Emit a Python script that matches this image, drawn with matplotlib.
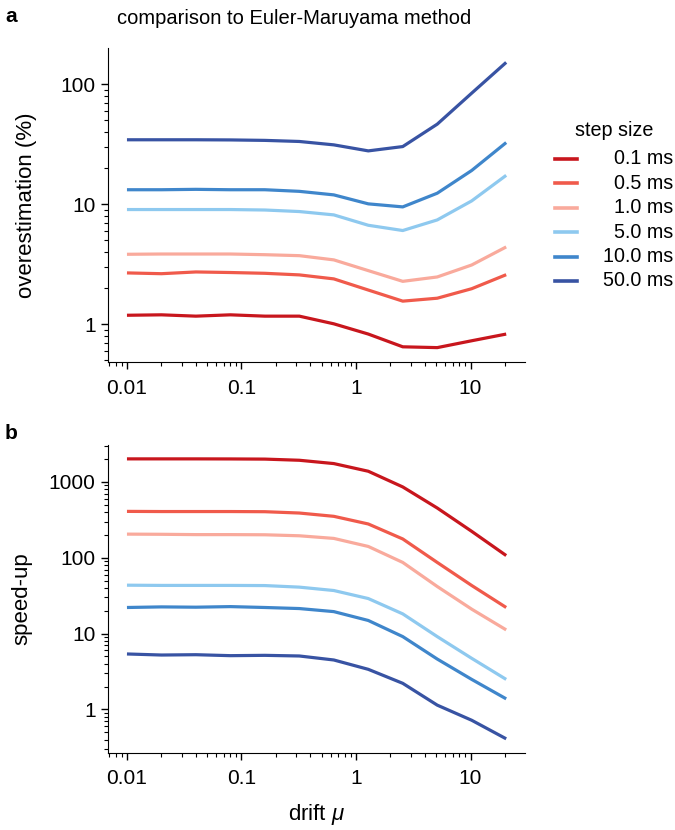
import matplotlib
matplotlib.use('Agg')
import matplotlib.pyplot as plt
from matplotlib.lines import Line2D
import numpy as np

plt.rcParams['font.family'] = ['Liberation Sans', 'DejaVu Sans']
plt.rcParams['mathtext.fontset'] = 'custom'
plt.rcParams['mathtext.it'] = 'Liberation Sans:italic'

# drift values
drift = [0.01, 0.02, 0.04, 0.08, 0.16, 0.32, 0.64, 1.28, 2.56, 5.12, 10.24, 20.48]

steps = ['0.1 ms', '0.5 ms', '1.0 ms', '5.0 ms', '10.0 ms', '50.0 ms']
colors = ['#c8161d', '#f05a4b', '#f9aa9c', '#8ec9ef', '#3f86cb', '#3853a3']

# overestimation (%)
over_01 = [1.19, 1.20, 1.17, 1.20, 1.17, 1.17, 1.01, 0.83, 0.65, 0.64, 0.73, 0.83]
over_05 = [2.68, 2.64, 2.73, 2.70, 2.66, 2.58, 2.39, 1.93, 1.56, 1.65, 1.98, 2.59]
over_1 = [3.83, 3.85, 3.85, 3.85, 3.80, 3.73, 3.44, 2.80, 2.28, 2.48, 3.12, 4.41]
over_5 = [9.03, 9.03, 9.03, 9.03, 8.95, 8.69, 8.15, 6.68, 6.04, 7.40, 10.66, 17.4]
over_10 = [13.2, 13.2, 13.3, 13.2, 13.2, 12.8, 11.96, 10.07, 9.5, 12.35, 19.1, 32.6]
over_50 = [34.4, 34.4, 34.4, 34.3, 34.0, 33.3, 31.2, 27.8, 30.2, 46.4, 84.1, 151.6]
over = [over_01, over_05, over_1, over_5, over_10, over_50]

# speed-up
speed_01 = [2014, 2014, 2014, 2010, 2000, 1931, 1746, 1383, 859, 453, 223, 107]
speed_05 = [409, 407, 407, 407, 405, 389, 352, 279, 177, 86.8, 43.1, 22.1]
speed_1 = [205, 204, 202, 202, 201, 195, 180, 141, 86.8, 41.8, 21.0, 11.2]
speed_5 = [43.5, 43.2, 43.2, 43.2, 43.0, 41.0, 37.0, 29.0, 18.2, 9.13, 4.72, 2.49]
speed_10 = [22.1, 22.5, 22.3, 22.7, 22.1, 21.4, 19.5, 14.9, 9.13, 4.62, 2.49, 1.38]
speed_50 = [5.39, 5.22, 5.27, 5.12, 5.17, 5.07, 4.49, 3.38, 2.21, 1.14, 0.72, 0.41]
speed = [speed_01, speed_05, speed_1, speed_5, speed_10, speed_50]

fig = plt.figure(figsize=[6.75, 8.3], dpi=100)
ax1 = fig.add_axes([0.16, 0.564, 0.618, 0.378])
ax2 = fig.add_axes([0.16, 0.093, 0.618, 0.371])

for ax, data in [(ax1, over), (ax2, speed)]:
    for i in range(len(steps)):
        ax.plot(drift, data[i], c=colors[i], lw=2.3, solid_capstyle='butt')
    ax.set_xscale('log')
    ax.set_yscale('log')
    ax.spines['top'].set_visible(False)
    ax.spines['right'].set_visible(False)
    ax.tick_params(which='major', length=5, width=1, labelsize=15, pad=4)
    ax.tick_params(axis='x', which='major', pad=7)
    ax.tick_params(which='minor', length=3, width=0.8)
    ax.xaxis.set_major_formatter(matplotlib.ticker.FuncFormatter(lambda v, p: '%g' % v))
    ax.yaxis.set_major_formatter(matplotlib.ticker.FuncFormatter(lambda v, p: '%g' % v))

ax1.set_ylabel('overestimation (%)', fontsize=16)
ax1.yaxis.set_label_coords(-0.170, 0.5)
ax2.set_ylabel('speed-up', fontsize=16)
ax2.yaxis.set_label_coords(-0.182, 0.5)
ax2.set_xlabel(r'drift $\mu$', fontsize=16, labelpad=10)

fig.text(294/675, 1 - 18/830, 'comparison to Euler-Maruyama method', fontsize=14.5,
         ha='center', va='center')
fig.text(5/675, 1 - 16/830, 'a', fontsize=15, weight='bold', ha='left', va='center')
fig.text(5/675, 1 - 433/830, 'b', fontsize=15, weight='bold', ha='left', va='center')

# legend drawn by hand so that labels are right-aligned
fig.text(614/675, 1 - 131/830, 'step size', fontsize=14.2, ha='center', va='center')
for i in range(len(steps)):
    y = 1 - (159 + 24.4*i)/830
    fig.add_artist(Line2D([555/675, 577/675], [y, y], color=colors[i], lw=2.6,
                          transform=fig.transFigure))
    fig.text(673/675, y, steps[i], fontsize=14.2, ha='right', va='center')

plt.savefig('out.png', dpi=100)
